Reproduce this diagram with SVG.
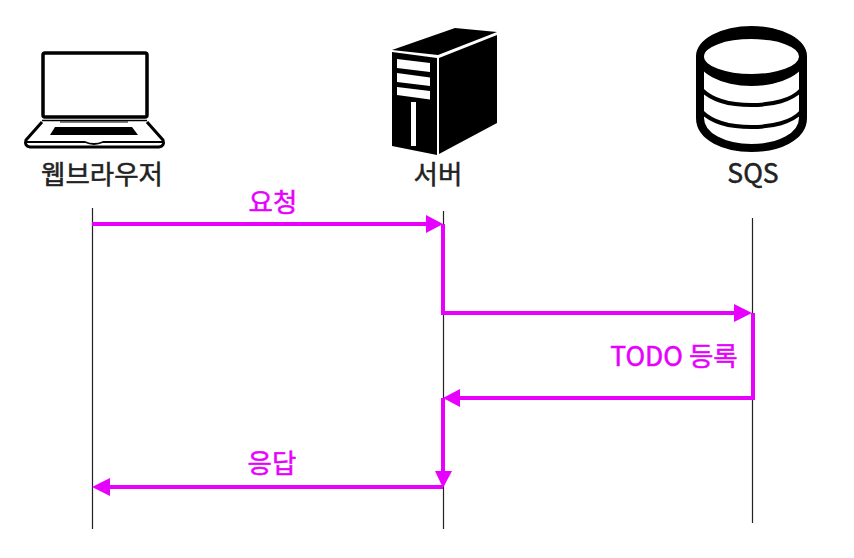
<svg xmlns="http://www.w3.org/2000/svg" width="854" height="558" viewBox="0 0 854 558">
<style>
.life{stroke:#222;stroke-width:1.200;fill:none}
.flow{stroke:#e800ff;stroke-width:4;fill:none}
.head{fill:#e800ff}
.lbl{font-family:"Noto Sans CJK KR","Noto Sans",sans-serif;font-size:26.500px;text-anchor:middle;fill:#222;stroke:#222;stroke-width:.5}
.msg{font-family:"Noto Sans CJK KR","Noto Sans",sans-serif;font-size:26.500px;text-anchor:middle;fill:#e800ff;stroke:#e800ff;stroke-width:.5}
</style>
<rect width="854" height="558" fill="#fff"/>
<g id="browser">
<rect x="43" y="53" width="104" height="64" rx="2" fill="#fff" stroke="#000" stroke-width="3.500"/>
<path d="M42 122L26 140Q24 146 30 147H159Q165 146 163 140L147 122" fill="#fff" stroke="#000" stroke-width="3"/>
<path d="M27 142H85Q94 146 103 142H162" stroke="#000" stroke-width="1.800" fill="none"/>
<path d="M55 127H132L138 135H50Z" fill="#000"/>
<path d="M42 120.500H147" stroke="#000" stroke-width="1.500"/>
<path d="M60 122H128" stroke="#000" stroke-width="1"/>
<text class="lbl" x="102" y="184">웹브라우저</text>
</g>
<g id="server">
<path d="M392 50L455 28L497 32L438 55Z" fill="#000"/>
<path d="M392 52L437 58V155L392 146Z" fill="#000"/>
<path d="M439 58L497 35V123L439 154Z" fill="#000"/>
<path d="M397 59L430 63V72L397 68ZM397 73L430 77.500V86L397 82ZM397 87L430 91V99.500L397 95Z" fill="#fff"/>
<rect x="411" y="102" width="5" height="44" fill="#fff"/>
<text class="lbl" x="438" y="184">서버</text>
</g>
<g id="sqs">
<path d="M700 56V118C700 137 725 148 751.500 148C778 148 803 137 803 118V56" fill="#fff" stroke="#000" stroke-width="8"/>
<path d="M696 56A55.500 30 0 0 1 807 56A55.500 30 0 0 1 696 56ZM704 56.500A47.500 17.500 0 0 0 799 56.500A47.500 17.500 0 0 0 704 56.500Z" fill="#000" fill-rule="evenodd"/>
<path d="M702 90C712 100 730 105 751.500 105C773 105 792 100 801 90M702 112C712 122 730 127 751.500 127C773 127 792 122 801 112" fill="none" stroke="#000" stroke-width="4"/>
<text class="lbl" x="753" y="183">SQS</text>
</g>
<g id="connectors">
<path class="life" d="M92.500 208V529M443.500 211V529M752.500 218V523"/>
<path class="flow" d="M92 224H430"/>
<path class="head" d="M426 215L443 224L426 233Z"/>
<path class="flow" d="M443 224V313H738"/>
<path class="head" d="M734 304L752 313L734 322Z"/>
<path class="flow" d="M753 313V398H456"/>
<path class="head" d="M460 389L443 398L460 407Z"/>
<path class="flow" d="M443 398V474"/>
<path class="head" d="M435 471H452L443 488Z"/>
<path class="flow" d="M443 487H106"/>
<path class="head" d="M110 478L92 487L110 496Z"/>
<text class="msg" x="273" y="212">요청</text>
<text class="msg" x="674" y="366">TODO 등록</text>
<text class="msg" x="272" y="473">응답</text>
</g>
</svg>
